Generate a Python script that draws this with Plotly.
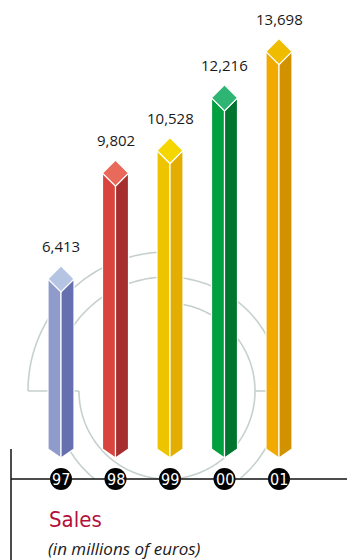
import numpy as np
import plotly.graph_objects as go

# ---- data ----
years = ["97", "98", "99", "00", "01"]
sales = [6413, 9802, 10528, 12216, 13698]
top_colors = ["#b6c4e4", "#e96a5a", "#f5d600", "#2eb573", "#f0bc00"]
left_colors = ["#8f9bcb", "#d9443f", "#eec300", "#00a040", "#f2a900"]
right_colors = ["#6670b0", "#a52e2e", "#e3ae00", "#007530", "#d29200"]
title_text = "Sales"
subtitle_text = "(in millions of euros)"

W, H = 347, 560
PX_PER_UNIT = 0.0312          # vertical pixels per million euros
ZERO_PX = 466                 # pixel row of value 0
STEP_PX = 54.5                # pixel distance between categories
FIRST_PX = 61                 # pixel column of first category

ymin = -(H - ZERO_PX) / PX_PER_UNIT
ymax = ZERO_PX / PX_PER_UNIT
xmin = -FIRST_PX / STEP_PX
xmax = (W - FIRST_PX) / STEP_PX

def dv(px):   # pixel offset -> value units
    return px / PX_PER_UNIT
def dx(px):
    return px / STEP_PX
def val_of_row(px_row):
    return (ZERO_PX - px_row) / PX_PER_UNIT

fig = go.Figure()

# ---- decorative rings (paper coordinates, below the bars) ----
def to_paper(xs, ys):
    return [x / W for x in xs], [1 - y / H for y in ys]

def poly_path(xs, ys):
    px, py = to_paper(xs, ys)
    return "M " + " L ".join(f"{a:.5f},{b:.5f}" for a, b in zip(px, py))

CX, CY = 167, 391
BASE = 479
ring_col = "#c6d1cd"
def arc_segments(r, a0, a1, n=240):
    t = np.radians(np.linspace(a0, a1, n))
    xs = CX + r * np.cos(t)
    ys = CY - r * np.sin(t)
    segs, cur = [], []
    for x, y in zip(xs, ys):
        if y <= BASE:
            cur.append((x, y))
        else:
            if len(cur) > 1:
                segs.append(cur)
            cur = []
    if len(cur) > 1:
        segs.append(cur)
    return segs

shapes = []
def add_arc(r, a0, a1):
    for seg in arc_segments(r, a0, a1):
        xs, ys = zip(*seg)
        shapes.append(dict(type="path", xref="paper", yref="paper",
                           path=poly_path(xs, ys), layer="below",
                           line=dict(color=ring_col, width=1.6)))
def add_line(x0, y0, x1, y1, color=ring_col, width=1.6, layer="below"):
    shapes.append(dict(type="line", xref="paper", yref="paper",
                       x0=x0 / W, y0=1 - y0 / H, x1=x1 / W, y1=1 - y1 / H,
                       layer=layer, line=dict(color=color, width=width)))

add_arc(139, 88, 180)
add_arc(114, 0, 360)
add_arc(88, -180, 90)
add_line(CX - 139, CY, CX - 88, CY)
add_line(CX + 88, CY, CX + 114, CY)

# axis lines
add_line(11, BASE, W, BASE, color="#111111", width=1.5, layer="above")
add_line(11, 449, 11, H, color="#111111", width=1.5, layer="above")

# ---- pillars ----
hw = dx(13)       # half width in x units
hd = dv(13)       # diamond half height in value units
side_bottom = val_of_row(449)
tip = val_of_row(458)
for i, v in enumerate(sales):
    xc = i
    top = dict(x=[xc, xc + hw, xc, xc - hw, xc], y=[v, v - hd, v - 2 * hd, v - hd, v])
    left = dict(x=[xc - hw, xc, xc, xc - hw, xc - hw],
                y=[v - hd, v - 2 * hd, tip, side_bottom, v - hd])
    right = dict(x=[xc, xc + hw, xc + hw, xc, xc],
                 y=[v - 2 * hd, v - hd, side_bottom, tip, v - 2 * hd])
    for poly, col in ((left, left_colors[i]), (right, right_colors[i]), (top, top_colors[i])):
        fig.add_trace(go.Scatter(x=poly["x"], y=poly["y"], mode="lines", fill="toself",
                                 fillcolor=col, line=dict(color="white", width=1.2),
                                 hoverinfo="skip", showlegend=False))

# year badges
fig.add_trace(go.Scatter(
    x=list(range(len(years))), y=[val_of_row(BASE)] * len(years),
    mode="markers", marker=dict(size=22, color="#000000", line=dict(width=0)),
    hoverinfo="skip", showlegend=False))

annotations = []
for i, y in enumerate(years):
    annotations.append(dict(x=i, y=val_of_row(BASE), xref="x", yref="y", text=y,
                            showarrow=False, xanchor="center", yanchor="middle",
                            font=dict(family="Liberation Sans Narrow, DejaVu Sans Condensed",
                                      size=16, color="white")))

# value labels
for i, v in enumerate(sales):
    annotations.append(dict(x=i, y=v, xref="x", yref="y", text=f"{v:,}",
                            showarrow=False, yshift=20, yanchor="middle",
                            font=dict(family="Open Sans, Noto Sans", size=15, color="#1a1a1a")))

annotations.append(dict(x=47 / W, y=1 - 519 / H, xref="paper", yref="paper", text=title_text,
                        showarrow=False, xanchor="left", yanchor="middle",
                        font=dict(family="Liberation Sans Narrow, DejaVu Sans Condensed", size=22,
                                  color="#b3103c")))
annotations.append(dict(x=46 / W, y=1 - 548 / H, xref="paper", yref="paper", text=subtitle_text,
                        showarrow=False, xanchor="left", yanchor="middle",
                        font=dict(family="Open Sans, Noto Sans", size=17, color="#1a1a1a",
                                  style="italic")))

fig.update_layout(
    width=W, height=H, margin=dict(l=0, r=0, t=0, b=0),
    paper_bgcolor="white", plot_bgcolor="white",
    xaxis=dict(range=[xmin, xmax], visible=False, fixedrange=True),
    yaxis=dict(range=[ymin, ymax], visible=False, fixedrange=True),
    shapes=shapes, annotations=annotations, showlegend=False,
)

fig.write_html("out.html")
